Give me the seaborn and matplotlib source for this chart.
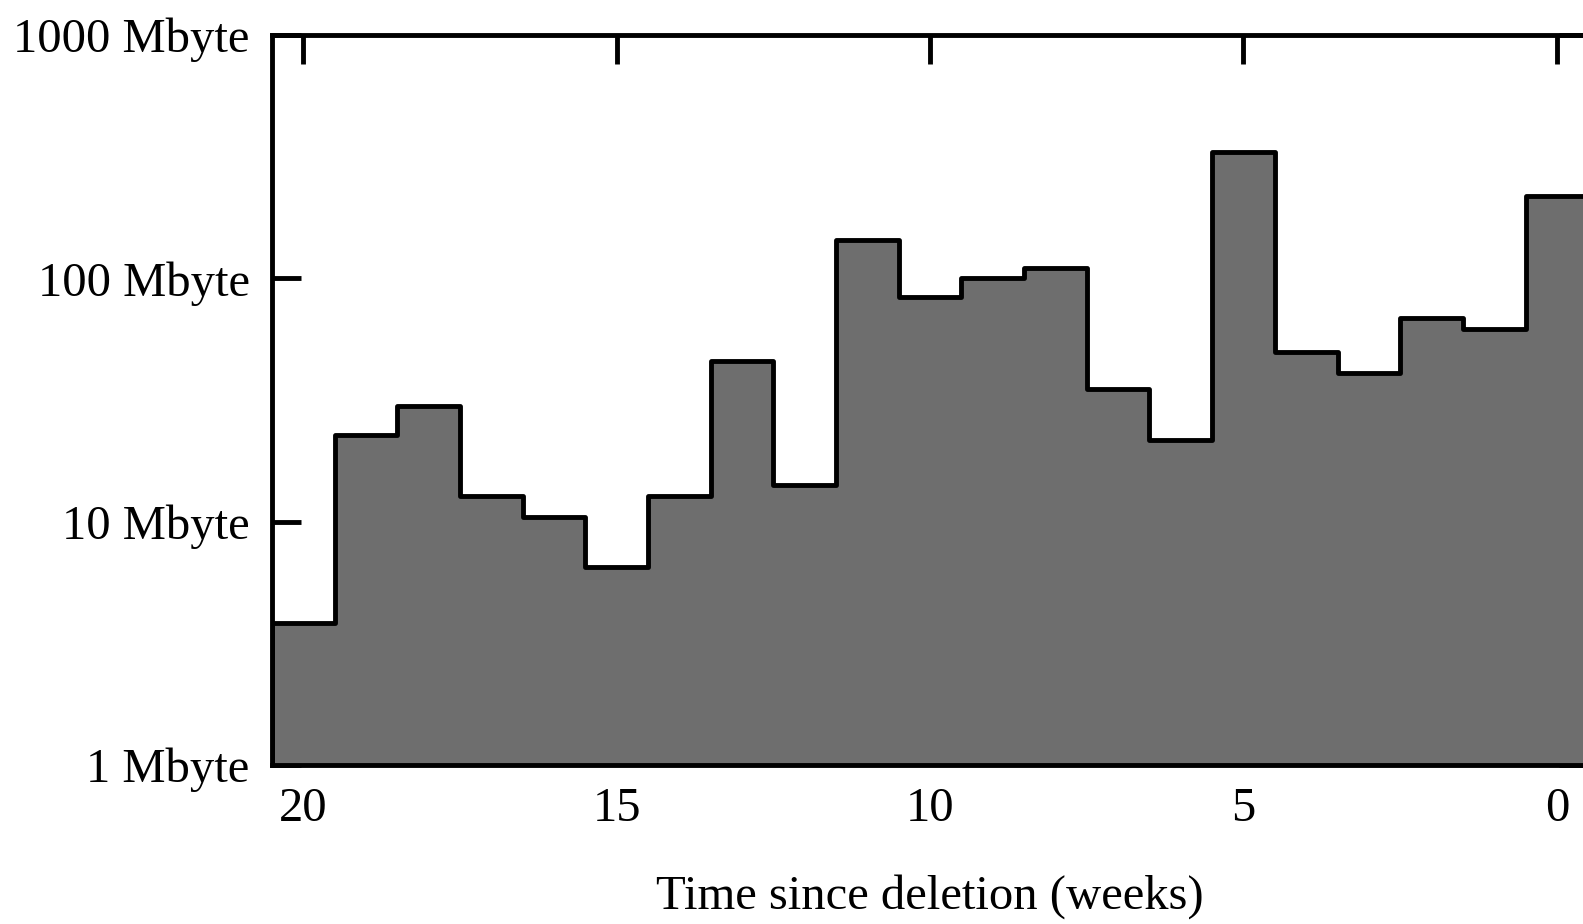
#!/usr/bin/env python
"""
Weekly volume of deleted data, step histogram on a log scale.
"""
# Third-party
import matplotlib

matplotlib.use("Agg")
import matplotlib.pyplot as plt
import pandas as pd
import seaborn as sns
from matplotlib.ticker import FixedLocator, NullLocator

# Data: weeks since deletion and volume in Mbyte
weeks = list(range(20, -1, -1))
mbytes = [
    3.85, 22.7, 30, 12.8, 10.5, 6.5, 12.8, 45.7, 14.2, 144, 84,
    100, 110, 35, 21.7, 330, 50, 40.7, 69, 62, 219,
]
x_ticks = [20, 15, 10, 5, 0]
y_ticks = [1, 10, 100, 1000]
y_tick_labels = ["1 Mbyte", "10 Mbyte", "100 Mbyte", "1000 Mbyte"]

sns.set_style("ticks")
plt.rcParams["font.family"] = ["Liberation Serif", "DejaVu Serif"]

data = pd.DataFrame({"week": weeks, "mbyte": mbytes})

fig = plt.figure(figsize=(15.83, 9.24), dpi=100)
ax = fig.add_axes([0.1718, 0.172, 0.8315, 0.790])

sns.histplot(
    data=data,
    x="week",
    weights="mbyte",
    discrete=True,
    element="step",
    fill=True,
    color="#6e6e6e",
    edgecolor="black",
    linewidth=3.5,
    alpha=1,
    ax=ax,
)

ax.set_yscale("log")
ax.set_ylim(1, 1000)
ax.set_xlim(20.5, -0.5)

ax.xaxis.set_major_locator(FixedLocator(x_ticks))
ax.set_xticklabels([str(t) for t in x_ticks])
ax.yaxis.set_major_locator(FixedLocator(y_ticks))
ax.yaxis.set_minor_locator(NullLocator())
ax.set_yticklabels(y_tick_labels)

ax.tick_params(
    axis="both",
    which="major",
    direction="in",
    length=21,
    width=3.5,
    labelsize=35,
    top=True,
    right=True,
    color="black",
    labelcolor="black",
)
ax.tick_params(axis="x", pad=16)
ax.tick_params(axis="y", pad=16)

for spine in ax.spines.values():
    spine.set_linewidth(3.5)
    spine.set_color("black")
    spine.set_visible(True)

ax.set_xlabel("Time since deletion (weeks)", fontsize=35, labelpad=31,
              color="black")
ax.set_ylabel("")

fig.savefig("out.png", dpi=100)
